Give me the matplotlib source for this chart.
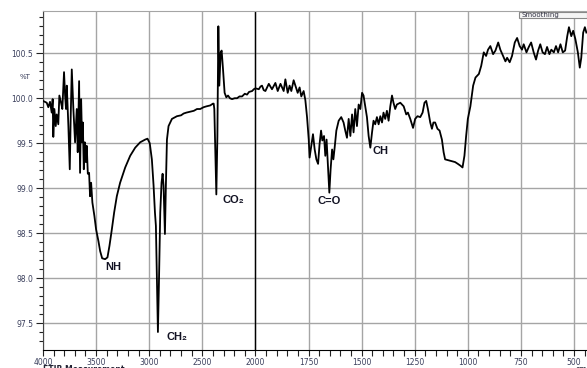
import numpy as np
import matplotlib
matplotlib.use("Agg")
import matplotlib.pyplot as plt
from matplotlib.patches import Rectangle

# FTIR spectrum, wavenumber (cm-1) vs %T
wavenumber = [4000, 3965, 3950, 3934, 3918, 3909, 3903, 3893, 3880, 3871, 3856, 3846, 3830, 3818,
              3802, 3792, 3783, 3776, 3761, 3748, 3739, 3729, 3714, 3698, 3682, 3673, 3660, 3651,
              3641, 3632, 3625, 3616, 3607, 3597, 3588, 3578, 3566, 3557, 3547, 3535, 3516, 3500,
              3478, 3462, 3443, 3415, 3393, 3374, 3352, 3330, 3305, 3274, 3226, 3179, 3132, 3085,
              3038, 3016, 2995, 2975, 2959, 2946, 2937, 2927, 2918, 2909, 2896, 2884, 2874, 2865,
              2852, 2843, 2833, 2818, 2786, 2739, 2700, 2676, 2650, 2613, 2580, 2550, 2520, 2488,
              2460, 2425, 2400, 2393, 2387, 2377, 2368, 2358, 2349, 2340, 2327, 2318, 2305, 2290,
              2274, 2258, 2240, 2220, 2195, 2173, 2150, 2126, 2100, 2079, 2060, 2031, 2015, 2000,
              1984, 1976, 1969, 1961, 1953, 1937, 1922, 1906, 1895, 1882, 1867, 1859, 1848, 1839,
              1831, 1820, 1812, 1801, 1792, 1784, 1773, 1765, 1757, 1749, 1745, 1737, 1729, 1721,
              1713, 1705, 1698, 1691, 1685, 1677, 1671, 1665, 1658, 1652, 1646, 1639, 1633, 1627,
              1619, 1608, 1596, 1585, 1577, 1569, 1561, 1553, 1545, 1538, 1530, 1522, 1514, 1506,
              1498, 1491, 1483, 1475, 1467, 1459, 1451, 1444, 1436, 1428, 1420, 1412, 1404, 1397,
              1389, 1381, 1373, 1365, 1357, 1350, 1342, 1334, 1318, 1302, 1290, 1282, 1271, 1258,
              1248, 1237, 1224, 1213, 1204, 1196, 1188, 1177, 1169, 1162, 1154, 1143, 1133, 1122,
              1114, 1107, 1091, 1075, 1060, 1047, 1035, 1025, 1016, 1008, 1000, 988, 975, 964,
              948, 937, 925, 914, 905, 894, 881, 870, 857, 847, 834, 823, 815, 803,
              792, 779, 768, 756, 745, 737, 724, 713, 702, 690, 679, 669, 659, 648,
              637, 627, 616, 607, 595, 585, 575, 564, 553, 542, 532, 524, 513, 504,
              494, 482, 473, 466, 457, 449, 442]
transmittance = [99.97, 99.95, 99.90, 99.96, 99.84, 99.99, 99.57, 99.88, 99.69, 99.82, 99.71, 100.03, 99.95, 99.88,
                 100.29, 100.03, 99.88, 100.14, 99.69, 99.21, 99.80, 100.32, 99.88, 99.51, 99.88, 99.40, 100.19, 99.17,
                 99.99, 99.51, 99.73, 99.21, 99.51, 99.29, 99.47, 99.16, 99.17, 98.91, 99.06, 98.84, 98.69, 98.54,
                 98.41, 98.30, 98.22, 98.21, 98.23, 98.36, 98.54, 98.73, 98.91, 99.06, 99.23, 99.36, 99.45, 99.51,
                 99.54, 99.55, 99.50, 99.32, 99.03, 98.73, 98.58, 97.99, 97.40, 97.91, 98.73, 99.06, 99.16, 99.03,
                 98.49, 99.03, 99.54, 99.69, 99.77, 99.80, 99.81, 99.83, 99.84, 99.85, 99.86, 99.88, 99.88, 99.90,
                 99.91, 99.92, 99.94, 99.94, 99.88, 99.40, 98.93, 99.58, 100.80, 100.14, 100.51, 100.53, 100.32, 100.06,
                 100.01, 100.03, 100.00, 99.99, 100.00, 100.00, 100.02, 100.02, 100.05, 100.04, 100.07, 100.08, 100.10, 100.11,
                 100.10, 100.13, 100.14, 100.09, 100.08, 100.16, 100.10, 100.17, 100.08, 100.16, 100.08, 100.21, 100.06, 100.14,
                 100.08, 100.20, 100.14, 100.06, 100.12, 100.02, 100.08, 99.98, 99.79, 99.54, 99.34, 99.47, 99.60, 99.43,
                 99.32, 99.27, 99.49, 99.64, 99.53, 99.58, 99.36, 99.54, 99.21, 98.95, 99.21, 99.43, 99.32, 99.45,
                 99.64, 99.75, 99.79, 99.73, 99.64, 99.56, 99.77, 99.58, 99.82, 99.62, 99.88, 99.69, 99.93, 99.88,
                 100.06, 100.03, 99.91, 99.79, 99.58, 99.45, 99.62, 99.75, 99.71, 99.79, 99.71, 99.80, 99.73, 99.84,
                 99.77, 99.86, 99.75, 99.91, 100.03, 99.95, 99.88, 99.93, 99.95, 99.91, 99.82, 99.84, 99.77, 99.67,
                 99.77, 99.80, 99.79, 99.84, 99.95, 99.97, 99.88, 99.73, 99.66, 99.73, 99.73, 99.66, 99.64, 99.54,
                 99.40, 99.32, 99.31, 99.30, 99.29, 99.27, 99.25, 99.23, 99.36, 99.58, 99.77, 99.91, 100.14, 100.23,
                 100.27, 100.36, 100.51, 100.47, 100.54, 100.58, 100.49, 100.53, 100.62, 100.54, 100.47, 100.41, 100.45, 100.40,
                 100.47, 100.62, 100.67, 100.58, 100.54, 100.60, 100.51, 100.57, 100.62, 100.51, 100.43, 100.53, 100.60, 100.51,
                 100.49, 100.57, 100.49, 100.54, 100.51, 100.58, 100.51, 100.60, 100.51, 100.53, 100.69, 100.79, 100.69, 100.75,
                 100.66, 100.51, 100.34, 100.45, 100.73, 100.79, 100.73]

# band labels: (text, wavenumber, %T)
band_labels = ["NH", "CH\u2082", "CO\u2082", "C=O", "CH"]
band_x = [3415, 2840, 2311, 1708, 1450]
band_y = [98.12, 97.34, 98.87, 98.86, 99.41]

x_major = [4000, 3500, 3000, 2500, 2000, 1750, 1500, 1250, 1000, 750, 500]
y_major = [97.5, 98.0, 98.5, 99.0, 99.5, 100.0, 100.5]


# instrument scale: half density above 2000 cm-1
def fwd(x):
    x = np.asarray(x, dtype=float)
    return np.where(x >= 2000, 2000 + (x - 2000) / 2, x)


def inv(u):
    u = np.asarray(u, dtype=float)
    return np.where(u >= 2000, 2000 + (u - 2000) * 2, u)


fig = plt.figure(figsize=(5.87, 3.68), dpi=100)
ax = fig.add_axes([43 / 587, 18 / 368, 544 / 587, 339 / 368])
ax.set_xscale('function', functions=(fwd, inv))
ax.set_xlim(4000, 439)
ax.set_ylim(97.2, 100.97)

minor_x = list(range(3900, 2000, -100)) + list(range(1950, 439, -50))
ax.set_xticks(x_major)
ax.set_xticks([m for m in minor_x if m not in x_major], minor=True)
ax.set_yticks(y_major)
ax.set_yticks(np.arange(97.3, 100.95, 0.1), minor=True)
ax.set_xticklabels([str(v) for v in x_major])
ax.set_yticklabels(["%.1f" % v for v in y_major])

tick_col = '#3a3f5c'
ax.tick_params(axis='both', which='both', direction='out', labelsize=5.5,
               labelcolor=tick_col, color='#222222', width=0.8)
ax.tick_params(axis='x', which='major', length=4, pad=1.5)
ax.tick_params(axis='x', which='minor', length=4)
ax.tick_params(axis='y', which='major', length=5, pad=2)
ax.tick_params(axis='y', which='minor', length=3)

ax.grid(True, which='major', color='#a5a5a5', linewidth=1.0)
ax.axvline(2000, color='black', linewidth=1.0, zorder=1.5)
ax.set_axisbelow(True)

ax.spines['top'].set_color('#a5a5a5')
ax.spines['right'].set_visible(False)
ax.spines['left'].set_color('#444444')
ax.spines['bottom'].set_color('black')

ax.plot(wavenumber, transmittance, color='black', linewidth=1.3, zorder=3)

for lab, bx, by in zip(band_labels, band_x, band_y):
    ax.text(bx, by, lab, ha='left', va='center', fontsize=8, fontweight='bold',
            color='#111122', family=['Liberation Sans', 'DejaVu Sans'], zorder=4)

fig.text(25 / 587, 1 - 77 / 368, '%T', fontsize=5, color=tick_col,
         ha='center', va='center')
# footer line sits partly below the bottom edge
fig.text(43 / 587, 1 - 365 / 368, 'FTIR Measurement', fontsize=5.5,
         color='#222233', ha='left', va='top', fontweight='bold')
fig.text(576 / 587, 1 - 365.5 / 368, 'cm', fontsize=5.5, color='#222233',
         ha='left', va='top')

# smoothing box at the top right
fig.patches.append(Rectangle((519 / 587, 1 - 18 / 368), 68 / 587, 6 / 368,
                             transform=fig.transFigure, facecolor='#f4f4f4',
                             edgecolor='#888888', linewidth=0.8))
fig.text(522 / 587, 1 - 15 / 368, 'Smoothing', fontsize=5, color='#333344',
         ha='left', va='center')

fig.savefig('out.png', dpi=100)
